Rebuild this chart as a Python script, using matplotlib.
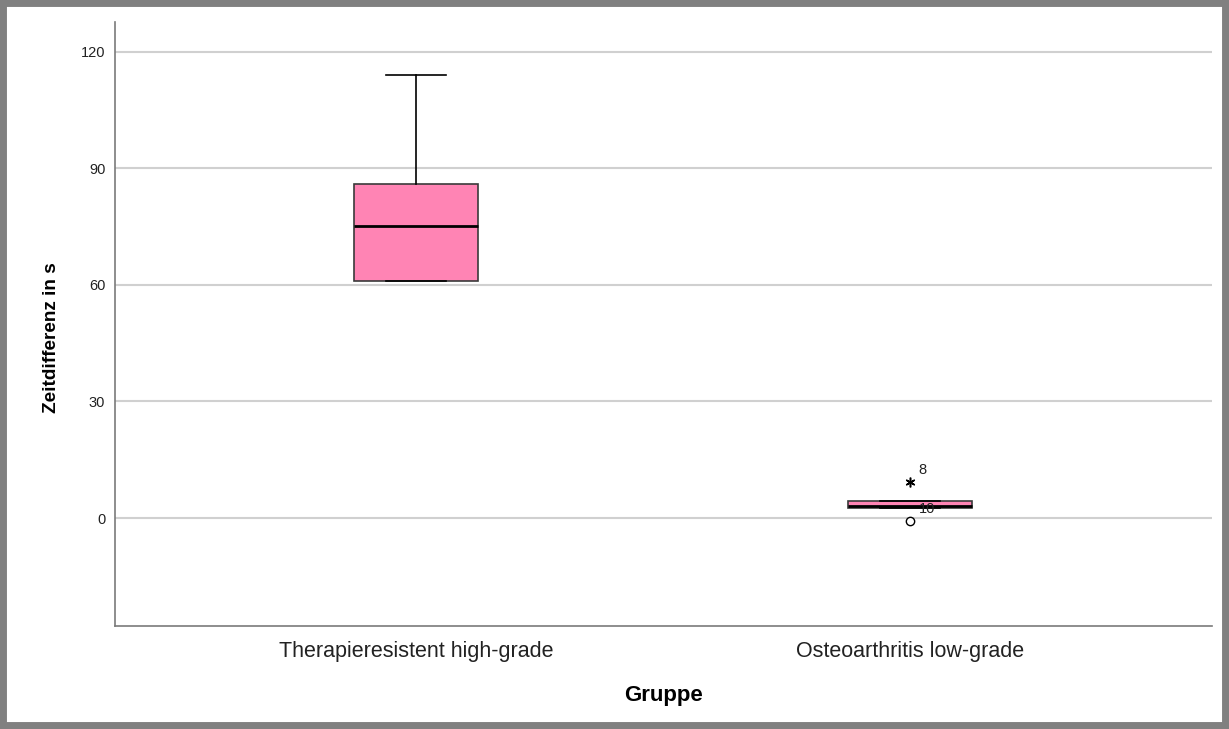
import matplotlib.pyplot as plt
from matplotlib.patches import Rectangle

plt.rcParams['font.family'] = ['Liberation Sans', 'DejaVu Sans']

# Boxplot statistics per group (seconds)
groups = ["Therapieresistent high-grade", "Osteoarthritis low-grade"]
q1 = [61.1, 2.6]
median = [75.2, 3.1]
q3 = [86.0, 4.4]
whisker_low = [60.9, 2.5]
whisker_high = [114.0, 4.5]

# Outliers of group 2: (value, case number, marker)
outlier_values = [9.3, -0.8]
outlier_ids = ["8", "10"]
outlier_markers = ["*", "o"]

stats = []
for i, name in enumerate(groups):
    stats.append(dict(label=name, q1=q1[i], med=median[i], q3=q3[i],
                      whislo=whisker_low[i], whishi=whisker_high[i], fliers=[]))

fig = plt.figure(figsize=(12.29, 7.29), dpi=100)
ax = fig.add_axes([115 / 1229, 103 / 729, 1097 / 1229, 604 / 729])

positions = [1, 2]
ax.bxp(stats, positions=positions, widths=0.25, patch_artist=True, showfliers=False,
       boxprops=dict(facecolor="#ff84b4", edgecolor="#3a3a3a", linewidth=1.2),
       medianprops=dict(color="black", linewidth=2),
       whiskerprops=dict(color="black", linewidth=1.2),
       capprops=dict(color="black", linewidth=1.2), capwidths=0.123, zorder=3)

# outlier markers with their case numbers
for v, cid, m in zip(outlier_values, outlier_ids, outlier_markers):
    if m == "*":
        ax.plot(2, v, marker=(6, 2, 0), color="black", markersize=7,
                markeredgewidth=1.1, linestyle="none", zorder=4)
    else:
        ax.plot(2, v, marker="o", markerfacecolor="white", markeredgecolor="black",
                markersize=6, linestyle="none", zorder=4)
    ax.annotate(cid, (2, v), xytext=(6, 6), textcoords="offset points",
                fontsize=10.5, color="#222222", zorder=5)

ax.set_xlim(0.391, 2.611)
ax.set_ylim(-27.8, 127.7)
ax.set_yticks([0, 30, 60, 90, 120])
ax.set_xticks(positions)
ax.set_xticklabels(groups, fontsize=15.5, color="#222222")
ax.tick_params(axis="y", labelsize=10.5, colors="#222222", length=0, pad=7)
ax.tick_params(axis="x", length=0, pad=11)
ax.yaxis.grid(True, color="#d0d0d0", linewidth=1.5)
ax.set_axisbelow(True)

for side in ["top", "right"]:
    ax.spines[side].set_visible(False)
for side in ["left", "bottom"]:
    ax.spines[side].set_color("#7a7a7a")
    ax.spines[side].set_linewidth(1.2)

ax.set_xlabel("Gruppe", fontsize=16, fontweight="bold", labelpad=16)
ax.set_ylabel("Zeitdifferenz in s", fontsize=13.7, fontweight="bold")
ax.yaxis.set_label_coords(-0.050, 0.478)

# Gray frame around the whole figure
fig.patches.append(Rectangle((0, 0), 1, 1, transform=fig.transFigure, fill=False,
                             edgecolor="#808080", linewidth=10))

fig.savefig("out.png", dpi=100)
